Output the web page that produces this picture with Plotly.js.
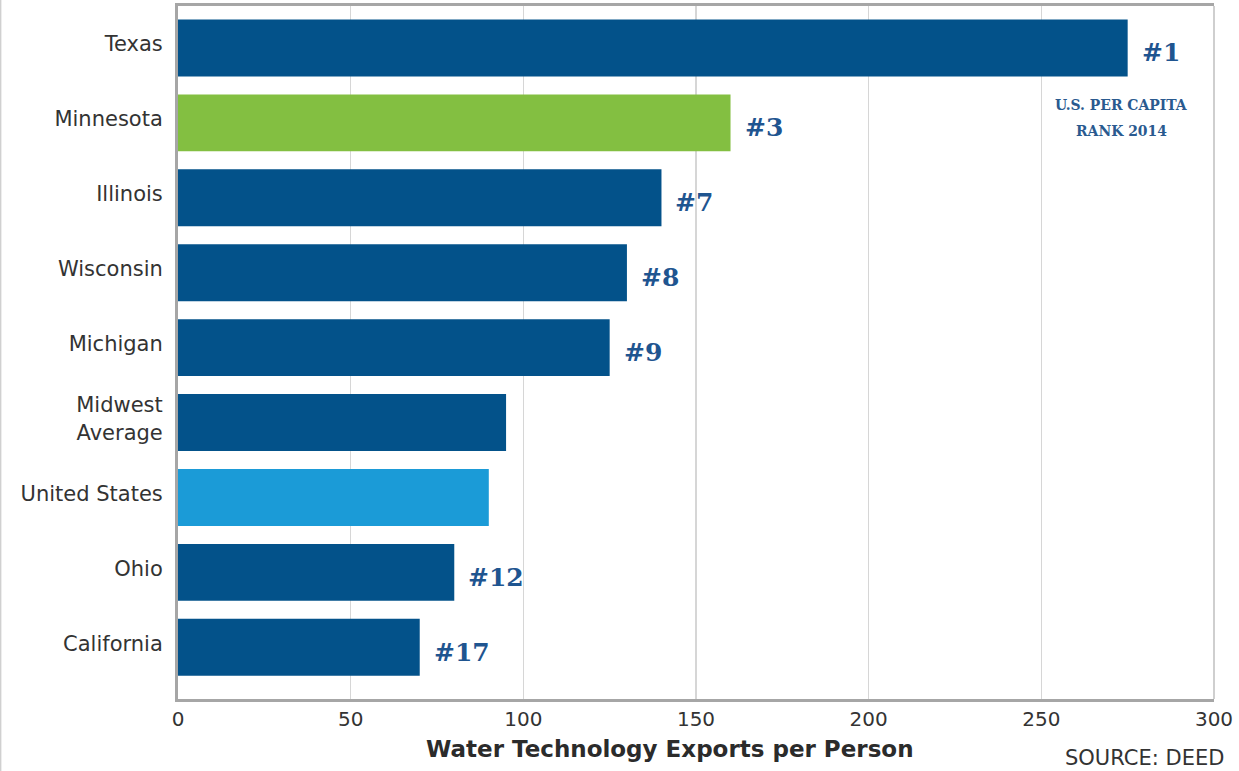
<!DOCTYPE html>
<html><head><meta charset="utf-8">
<script src="https://cdn.plot.ly/plotly-3.0.1.min.js"></script>
<style>html,body{margin:0;padding:0;background:#fff}#chart{width:1239px;height:771px}</style>
</head><body><div id="chart"></div>
<script>
const categories = ["Texas","Minnesota","Illinois","Wisconsin","Michigan","Midwest<br>Average","United States","Ohio","California"];
const values = [275, 160, 140, 130, 125, 95, 90, 80, 70];
const ranks = ["#1","#3","#7","#8","#9","","","#12","#17"];
const barColors = ["#03528a","#83bf41","#03528a","#03528a","#03528a","#03528a","#1b9bd7","#03528a","#03528a"];
const xTicks = [0,50,100,150,200,250,300];
const noteLines = ["U.S. PER CAPITA","RANK 2014"];

const rankFont = {family:"DejaVu Serif", size:25, color:"#1f5590", weight:"bold"};
const annotations = [];
categories.forEach((c,i)=>{
  if(ranks[i]) annotations.push({x:values[i], y:c, xref:"x", yref:"y", text:"<b>"+ranks[i]+"</b>", showarrow:false, xanchor:"left", xshift:12, yshift:-5, font:rankFont});
});
noteLines.forEach((t,k)=>{
  annotations.push({x:1, xref:"paper", xanchor:"center", xshift:-93, y:1, yref:"paper", yanchor:"middle", yshift:-98-26*k,
    text:"<b>"+t+"</b>", showarrow:false, font:{family:"DejaVu Serif Condensed, DejaVu Serif", size:15.5, color:"#2a5a8f"}});
});
annotations.push({x:0.475, xref:"paper", xanchor:"center", y:0, yref:"paper", yanchor:"middle", yshift:-50, text:"<b>Water Technology Exports per Person</b>", showarrow:false, font:{family:"DejaVu Sans", size:23, color:"#2b2b2b"}});
annotations.push({x:1, xref:"paper", xanchor:"right", xshift:12, y:0, yref:"paper", yanchor:"middle", yshift:-59, text:"SOURCE: DEED", showarrow:false, font:{family:"DejaVu Sans", size:21, color:"#333"}});

const data = [{type:"bar", orientation:"h", y:categories, x:values, marker:{color:barColors, line:{width:0}}, width:0.76, hoverinfo:"x+y"}];
const layout = {
  width:1239, height:771,
  margin:{l:178, r:25, t:6, b:72},
  paper_bgcolor:"#fff", plot_bgcolor:"#fff",
  showlegend:false,
  xaxis:{range:[0,300], tickvals:xTicks, ticktext:xTicks.map(String), showgrid:true, gridcolor:"#d6d6d6", gridwidth:1.5, zeroline:false,
    showline:true, linecolor:"#a6a6a6", linewidth:3, mirror:true, ticks:"", ticklen:0,
    tickfont:{family:"DejaVu Sans", size:20, color:"#333"}, fixedrange:true},
  yaxis:{type:"category", range:[8.69,-0.56], showgrid:false, zeroline:false, showline:true, linecolor:"#a6a6a6", linewidth:3,
    ticks:"", ticklen:0, ticklabelstandoff:8, ticklabelshift:4, tickfont:{family:"DejaVu Sans", size:21, color:"#333"}, fixedrange:true},
  annotations:annotations,
  shapes:[
    {type:"line", xref:"paper", yref:"paper", x0:1, x1:1, y0:0, y1:1, line:{color:"#cfcfcf", width:2}},
    {type:"line", xref:"paper", yref:"paper", x0:-0.1712, x1:-0.1712, y0:-0.11, y1:1.01, line:{color:"#d0d0d0", width:1.5}}
  ]
};
Plotly.newPlot("chart", data, layout, {displayModeBar:false, staticPlot:true});
</script></body></html>
